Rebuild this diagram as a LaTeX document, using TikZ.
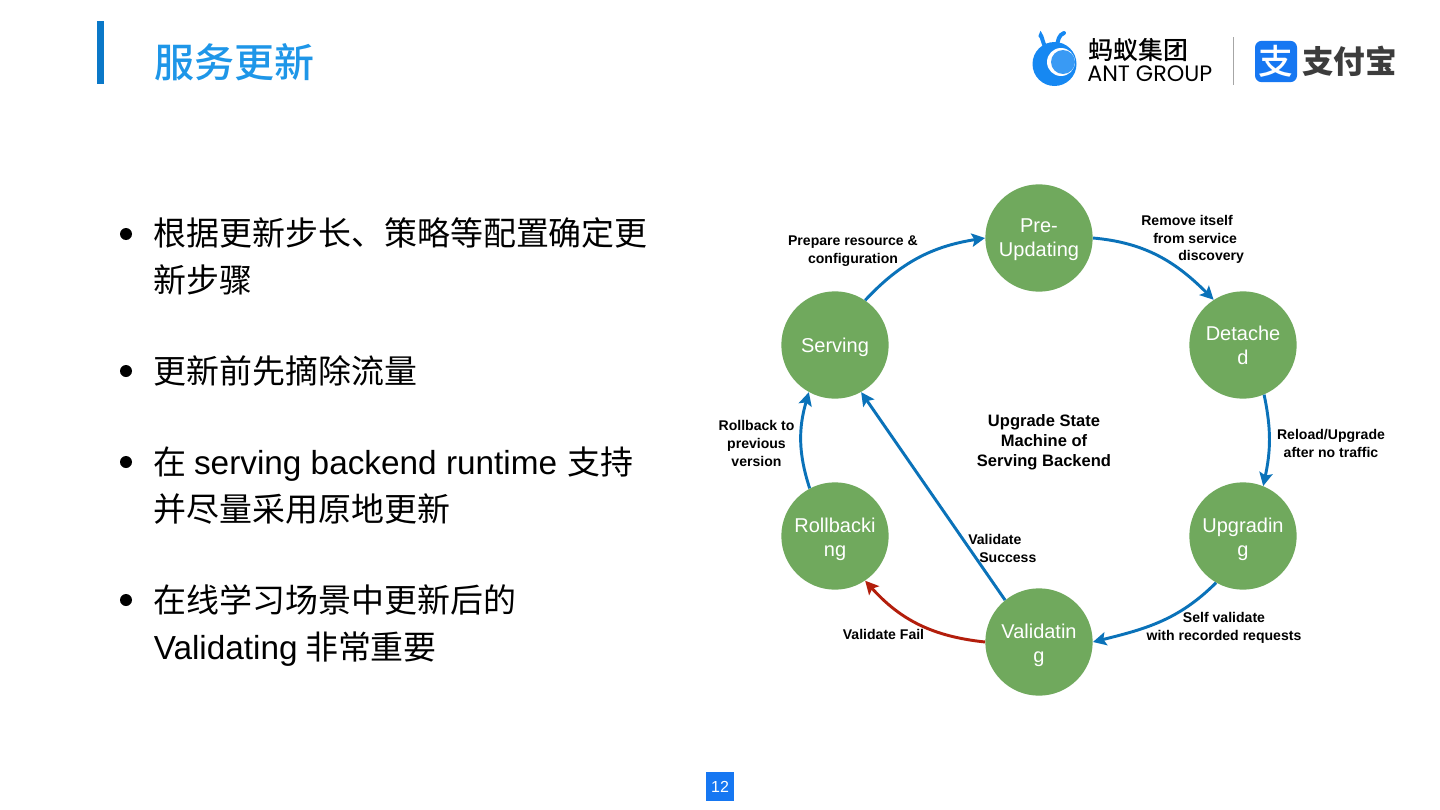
\documentclass[tikz,border=0pt]{standalone}
\usepackage{fontspec}
\setmainfont{Liberation Sans}
\newfontfamily\cjk{Noto Sans CJK SC}
\newfontfamily\cjkm{Noto Sans CJK SC Medium}
\newfontfamily\antfont{Poppins}
\usetikzlibrary{arrows.meta}
\definecolor{stategreen}{HTML}{70A95D}
\definecolor{flowblue}{HTML}{0A72B9}
\definecolor{failred}{HTML}{B31E0C}
\definecolor{titleblue}{HTML}{1E96E8}
\definecolor{barblue}{HTML}{0A78C8}
\definecolor{pageblue}{HTML}{1677F2}
\definecolor{antblue}{HTML}{1688F2}
\definecolor{darklogo}{HTML}{3C3C3C}
\tikzset{
  x=0.75pt,y=-0.75pt,
  state/.style={circle,fill=stategreen,draw=none,minimum size=80.5pt,inner sep=0pt,text=white,
    font=\fontsize{15}{18}\selectfont},
  flow/.style={draw=flowblue,line width=2.2pt,-{Stealth[length=10pt,width=10pt,inset=2pt]}},
  fail/.style={flow,draw=failred},
  lab/.style={font=\fontsize{10.55}{13.5}\selectfont\bfseries,text=black,inner sep=0pt},
  centerlab/.style={font=\fontsize{12.4}{15}\selectfont\bfseries,align=center,inner sep=0pt},
  bullettext/.style={anchor=base west,inner sep=0pt,font=\fontsize{24.7}{30}\selectfont\cjk},
  bulletdot/.style={circle,fill=black,minimum size=9pt,inner sep=0pt},
}
\newcommand{\lat}[1]{{\normalfont\fontsize{25}{30}\selectfont #1}}
\newcommand{\statetext}[2][-1.5pt]{\raisebox{#1}[\height][\depth]{\begin{tabular}{@{}c@{}}#2\end{tabular}}}
\begin{document}
\begin{tikzpicture}
\useasboundingbox (0,0) rectangle (1440,810);
\fill[white] (0,0) rectangle (1440,810);
% title
\fill[barblue] (97,21) rectangle (104,84);
\node[anchor=base west,inner sep=0pt,text=titleblue,font=\fontsize{30}{36}\selectfont\cjkm] (title) at (154,77.5) {服务更新};
% bullets
\node[bulletdot] (b1) at (126,234) {};
\node[bulletdot] (b2) at (126,371) {};
\node[bulletdot] (b3) at (126,462) {};
\node[bulletdot] (b4) at (126,600) {};
\node[bullettext] (t1) at (153.5,245) {根据更新步长、策略等配置确定更};
\node[bullettext] (t1b) at (153.5,292) {新步骤};
\node[bullettext] (t2) at (153.5,383) {更新前先摘除流量};
\node[bullettext] (t3) at (153.5,474) {在 \lat{serving backend runtime}\hspace{2pt} 支持};
\node[bullettext] (t3b) at (153.5,521) {并尽量采用原地更新};
\node[bullettext] (t4) at (153.5,612) {在线学习场景中更新后的};
\node[bullettext] (t4b) at (153.5,659) {\lat{Validating} 非常重要};
% states
\node[state] (pre) at (1039,238) {\statetext{Pre-\\Updating}};
\node[state] (det) at (1243,345) {\statetext[-2.25pt]{Detache\\d}};
\node[state] (upg) at (1243,536) {\statetext[-3pt]{Upgradin\\g}};
\node[state] (val) at (1039,642) {\statetext[-3pt]{Validatin\\g}};
\node[state] (rol) at (835,536) {\statetext[-3pt]{Rollbacki\\ng}};
\node[state] (ser) at (835,345) {\statetext[-2.25pt]{Serving}};
% connectors
\draw[flow] (ser.56) to[out=47,in=189] (pre.180);
\draw[flow] (pre.0) to[out=-5,in=135] (det.123);
\draw[flow] (det.-67) to[out=-78,in=78] (upg.68);
\draw[flow] (upg.-120) to[out=-135,in=14] (val.0);
\draw[fail] (val.180) to[out=174,in=-48] (rol.-56);
\draw[flow] (val.129) -- (ser.-61.5);
\draw[flow] (rol.118) to[out=108,in=-106] (ser.-119);
% labels
\node[lab,align=center] (l1) at (853,251) {Prepare resource \&\\configuration};
\node[lab,align=left,anchor=west] (l2a) at (1141,220) {Remove itself};
\node[lab,align=left,anchor=west] (l2b) at (1153,238.5) {from service};
\node[lab,align=left,anchor=west] (l2c) at (1178,257) {discovery};
\node[lab,align=center] (l3) at (1331,443) {Reload/Upgrade\\after no traffic};
\node[lab,align=center] (l4) at (1224,628) {Self validate\\with recorded requests};
\node[lab,align=left,anchor=west] (l5a) at (968,539.5) {Validate};
\node[lab,align=left,anchor=west] (l5b) at (979,557.5) {Success};
\node[lab] (l6) at (883.5,634.5) {Validate Fail};
\node[lab,align=center] (l7) at (756.5,443) {Rollback to\\previous\\version};
\node[centerlab] (cl) at (1044,442.5) {Upgrade State\\Machine of\\Serving Backend};
% page number
\node[fill=pageblue,text=white,minimum width=21pt,minimum height=22pt,inner sep=0pt,font=\fontsize{12}{14}\selectfont] (page) at (720,786.5) {12};
% ant logo
\draw[antblue,line width=3pt,line cap=round] (1040.5,36) to[out=85,in=-110] (1046,46);
\draw[antblue,line width=3pt,line cap=round] (1064,33) to[out=200,in=80] (1057,46);
\fill[antblue] (1054.5,64) circle[radius=16.5pt];
\fill[white] (1061,62) circle[radius=10.5pt];
\fill[antblue!85!white] (1063,62) circle[radius=9pt];
\node[anchor=base west,inner sep=0pt,font=\fontsize{18.7}{22}\selectfont\cjkm,text=black] (antcn) at (1088,60) {蚂蚁集团};
\node[anchor=base west,inner sep=0pt,font=\fontsize{16.7}{18}\selectfont\antfont,text=black] (anten) at (1087,81) {ANT GROUP};
% separator
\coordinate (septop) at (1233,37);
\coordinate (sepbot) at (1233,85);
\draw[gray!70,line width=0.75pt] (septop) -- (sepbot);
% alipay logo
\node[fill=pageblue,rounded corners=5pt,minimum width=31.5pt,minimum height=31pt,inner sep=0pt,text=white,font=\fontsize{26}{28}\selectfont\cjkm] (ali) at (1276,61.5) {支};
\node[anchor=base west,inner sep=0pt,font=\fontsize{23.7}{26}\selectfont\cjk\bfseries,text=darklogo] (alitext) at (1302,73) {支付宝};
\end{tikzpicture}
\end{document}
